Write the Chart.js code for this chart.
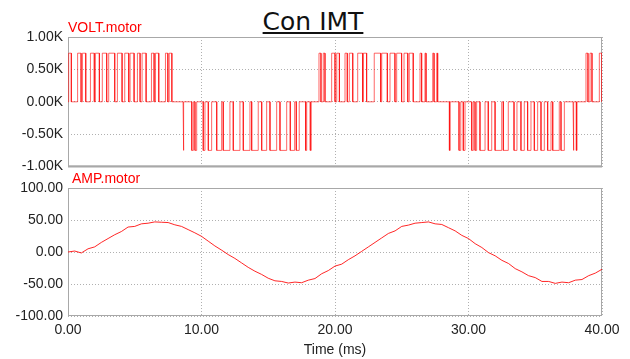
<!DOCTYPE html>
<html>
<head>
<meta charset="utf-8">
<script src="https://cdn.jsdelivr.net/npm/chart.js@4.4.0/dist/chart.umd.min.js"></script>
<style>
  body { margin: 0; background: #fff; width: 630px; height: 359px; overflow: hidden; position: relative; }
  #title { position: absolute; left: 0; width: 626px; top: 7px; text-align: center;
           font: 25px "DejaVu Sans"; line-height: 29px; text-decoration: underline; color: #111; }
  canvas { position: absolute; left: 0; }
</style>
</head>
<body>
<div id="title">Con IMT</div>
<canvas id="volt" width="630" height="180" style="top:0"></canvas>
<canvas id="amp" width="630" height="188" style="top:171px"></canvas>
<script>
// PWM pulses [start, end] in ms
const posPulses1 = [[0.05,0.25],[0.72,0.98],[1.08,1.33],[1.68,1.97],[2.05,2.35],[2.57,2.90],[3.05,3.50],
  [3.70,4.05],[4.25,4.55],[4.65,4.95],[5.20,5.40],[5.55,5.85],[6.25,6.45],[6.55,6.80],[7.30,7.48],[7.58,7.78]];
const negPulses1 = [[8.62,8.68],[9.27,9.39],[9.51,9.64],[10.13,10.26],[10.51,10.76],[11.14,11.51],[11.63,12.13],
  [12.38,12.88],[13.13,13.63],[13.76,14.25],[14.51,14.88],[15.13,15.63],[15.88,16.38],[16.65,16.98],
  [17.10,17.32],[17.80,17.88],[18.15,18.22]];
const posPulses2 = [[18.80,18.95],[19.12,19.25],[19.75,20.00],[20.13,20.33],[20.75,20.92],[21.07,21.33],
  [21.70,22.07],[22.12,22.37],[22.94,23.42],[23.50,23.92],[24.12,24.49],[24.62,24.99],[25.17,25.45],
  [25.56,25.86],[26.37,26.49],[26.74,26.82],[27.32,27.42],[27.62,27.69]];
const negPulses2 = [[28.57,28.63],[29.29,29.42],[29.61,29.74],[30.24,30.36],[30.49,30.61],[30.86,31.24],
  [31.48,31.74],[31.99,32.49],[32.61,32.98],[33.41,33.63],[33.93,34.18],[34.43,34.68],[34.93,35.18],
  [35.43,35.68],[35.93,36.18],[36.31,36.80],[36.93,37.18],[37.83,37.90],[38.08,38.13]];
const posPulses3 = [[38.80,38.95],[39.10,39.25],[39.80,40.00]];
const pulseLevel = 750;

// motor current, one sample every 0.5 ms from 0 to 40 ms
const ampStep = 0.5;
const ampValues = [0, 1.5, -1.5, 5, 8, 15, 21, 27, 32, 39, 40, 44, 45, 47, 46.5, 46, 42.5, 40, 35, 30,
  24.5, 17, 9.5, 3, -4, -10, -17, -24, -30, -35, -41, -45, -46, -48.5, -47, -48, -44, -41.5, -34, -29,
  -22, -19, -12, -6, 1, 8, 15, 22, 29, 33, 40, 42, 45, 46, 47, 44, 43, 38, 33, 26,
  21, 13, 7, -1, -6, -13, -18, -26, -31, -37, -40, -46, -46, -49, -47, -48, -44, -43, -37, -33, -27];

const voltTicks = [-1000, -500, 0, 500, 1000];
const ampTicks = [-100, -50, 0, 50, 100];
const timeTicks = [0, 10, 20, 30, 40];

function pulsePoints() {
  const pts = [{x: 0, y: 0}];
  const groups = [[posPulses1, 1], [negPulses1, -1], [posPulses2, 1], [negPulses2, -1], [posPulses3, 1]];
  groups.forEach(([list, sign]) => {
    list.forEach(([a, b]) => {
      pts.push({x: a, y: 0}, {x: a, y: sign * pulseLevel}, {x: b, y: sign * pulseLevel}, {x: b, y: 0});
    });
  });
  pts.push({x: 40, y: 0});
  return pts;
}

Chart.defaults.font.family = '"Liberation Sans", Arial, sans-serif';
Chart.defaults.font.size = 14;
Chart.defaults.color = '#222';

const framePlugin = {
  id: 'frame',
  beforeDatasetsDraw(chart, args, opts) {
    const {ctx, chartArea: a} = chart;
    ctx.save();
    ctx.strokeStyle = '#a8a8a8';
    ctx.lineWidth = 1;
    ctx.strokeRect(a.left + 0.5, a.top + 0.5, a.right - a.left - 1, a.bottom - a.top - 1);
    if (opts.thickBottom) {
      ctx.lineWidth = 2;
      ctx.beginPath();
      ctx.moveTo(a.left, a.bottom);
      ctx.lineTo(a.right, a.bottom);
      ctx.stroke();
    }
    ctx.fillStyle = '#ff0000';
    ctx.font = '14px "Liberation Sans", Arial';
    ctx.textBaseline = 'alphabetic';
    ctx.fillText(opts.label, a.left + opts.dx, a.top - 5);
    ctx.restore();
  }
};

function gridOpts() {
  return { color: '#b0b0b0', drawTicks: false };
}
function borderOpts() {
  return { display: false, dash: [1, 2] };
}

new Chart('volt', {
  type: 'line',
  data: {
    datasets: [{
      data: pulsePoints(),
      borderColor: 'rgba(255,0,0,0.6)',
      borderWidth: 1,
      pointRadius: 0,
      tension: 0
    }]
  },
  options: {
    responsive: false,
    animation: false,
    devicePixelRatio: 1,
    layout: { padding: { top: 37, right: 28, bottom: 0, left: 0 } },
    plugins: {
      legend: { display: false },
      tooltip: { enabled: false },
      frame: { label: 'VOLT.motor', dx: 0, thickBottom: true }
    },
    scales: {
      x: {
        type: 'linear', min: 0, max: 40,
        afterBuildTicks: s => { s.ticks = timeTicks.map(v => ({value: v})); },
        ticks: { display: false },
        grid: gridOpts(), border: borderOpts(),
        afterFit: s => { s.height = 10; }
      },
      y: {
        min: -1000, max: 1000,
        afterBuildTicks: s => { s.ticks = voltTicks.map(v => ({value: v})); },
        ticks: { padding: 5, callback: v => (v / 1000).toFixed(2) + 'K' },
        grid: gridOpts(), border: borderOpts(),
        afterFit: s => { s.width = 68; }
      }
    }
  },
  plugins: [framePlugin]
});

new Chart('amp', {
  type: 'line',
  data: {
    datasets: [{
      data: ampValues.map((v, i) => ({x: i * ampStep, y: v})),
      borderColor: 'rgba(255,0,0,0.85)',
      borderWidth: 1,
      pointRadius: 0,
      tension: 0
    }]
  },
  options: {
    responsive: false,
    animation: false,
    devicePixelRatio: 1,
    layout: { padding: { top: 17, right: 28, bottom: 0, left: 0 } },
    plugins: {
      legend: { display: false },
      tooltip: { enabled: false },
      frame: { label: 'AMP.motor', dx: 4, thickBottom: false }
    },
    scales: {
      x: {
        type: 'linear', min: 0, max: 40,
        afterBuildTicks: s => { s.ticks = timeTicks.map(v => ({value: v})); },
        ticks: { padding: 6, maxRotation: 0, callback: v => v.toFixed(2) },
        grid: gridOpts(), border: borderOpts(),
        title: { display: true, text: 'Time (ms)', color: '#222', font: { size: 14 }, padding: { top: 0, bottom: 0 } },
        afterFit: s => { s.height = 43; }
      },
      y: {
        min: -100, max: 100,
        afterBuildTicks: s => { s.ticks = ampTicks.map(v => ({value: v})); },
        ticks: { padding: 5, callback: v => v.toFixed(2) },
        grid: gridOpts(), border: borderOpts(),
        afterFit: s => { s.width = 68; }
      }
    }
  },
  plugins: [framePlugin]
});
</script>
</body>
</html>
